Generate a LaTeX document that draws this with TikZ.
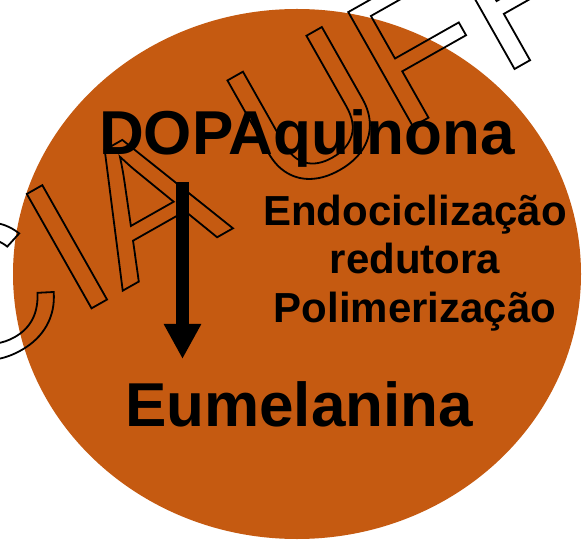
\documentclass[tikz,border=0pt]{standalone}
\usepackage{fontspec}
\setmainfont{Liberation Sans}
\usetikzlibrary{arrows.meta}
\definecolor{melanin}{HTML}{C55A11}

% stroked (hollow) letters for the stamp
\newcommand{\hollow}[1]{\special{pdf:literal direct 1 Tr 1.8 w}#1\special{pdf:literal direct 0 Tr}}

\tikzset{
  compound/.style={font=\fontsize{62}{62}\selectfont\bfseries, inner sep=0pt, anchor=base},
  process/.style={font=\fontsize{42}{48}\selectfont\bfseries, inner sep=0pt, align=center, anchor=base},
  stamp/.style={font=\fontsize{191}{191}\selectfont, inner sep=0pt, anchor=base west, rotate=29.5},
  reaction/.style={line width=13pt, -{Triangle[width=35pt,length=35pt]}}
}

\begin{document}
\begin{tikzpicture}[x=1pt,y=1pt]
    \useasboundingbox (0,0) rectangle (586,544);
    \fill[melanin] (297,270) ellipse [x radius=284, y radius=265];

    \node[compound] (dopa) at (307,389) {DOPAquinona};
    \node[compound] (eumel) at (299,118) {Eumelanina};
    % base sits on the last line
    \node[process] (steps) at (415,222) {Endociclização\\redutora\\Polimerização};

    \coordinate (start) at (182.5,362);
    \coordinate (tip) at (182.5,185);
    \draw[reaction] (start) -- (tip);

    \node[stamp] (mark) at (-44,159) {\hollow{CIA UFF}};
\end{tikzpicture}
\end{document}
